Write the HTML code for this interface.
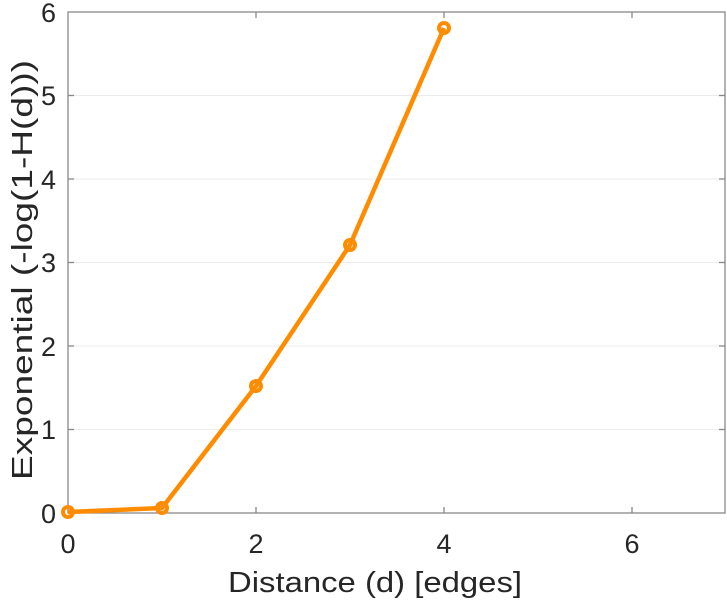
<!DOCTYPE html>
<html><head><style>body{margin:0;background:#fff}svg{display:block}text{font-family:"Liberation Sans",sans-serif;fill:#262626}</style></head>
<body>
<svg width="727" height="600" xmlns="http://www.w3.org/2000/svg">
<g stroke="#ebebeb" stroke-width="1">
<line x1="68" x2="725" y1="429.5" y2="429.5"/><line x1="68" x2="725" y1="346" y2="346"/>
<line x1="68" x2="725" y1="262.5" y2="262.5"/><line x1="68" x2="725" y1="179" y2="179"/>
<line x1="68" x2="725" y1="95.5" y2="95.5"/>
</g>
<rect x="68" y="12" width="657" height="501" fill="none" stroke="#888" stroke-width="1.3"/>
<g stroke="#888" stroke-width="1.3">
<line x1="256" x2="256" y1="513" y2="507"/><line x1="444" x2="444" y1="513" y2="507"/><line x1="632" x2="632" y1="513" y2="507"/>
<line x1="256" x2="256" y1="12" y2="18"/><line x1="444" x2="444" y1="12" y2="18"/><line x1="632" x2="632" y1="12" y2="18"/>
<line x1="68" x2="74" y1="429.5" y2="429.5"/><line x1="68" x2="74" y1="346" y2="346"/><line x1="68" x2="74" y1="262.5" y2="262.5"/><line x1="68" x2="74" y1="179" y2="179"/><line x1="68" x2="74" y1="95.5" y2="95.5"/>
<line x1="725" x2="719" y1="429.5" y2="429.5"/><line x1="725" x2="719" y1="346" y2="346"/><line x1="725" x2="719" y1="262.5" y2="262.5"/><line x1="725" x2="719" y1="179" y2="179"/><line x1="725" x2="719" y1="95.5" y2="95.5"/>
</g>
<g font-size="27" text-anchor="middle">
<text x="68" y="553">0</text><text x="256" y="553">2</text><text x="444" y="553">4</text><text x="632" y="553">6</text>
</g>
<g font-size="27" text-anchor="end">
<text x="56" y="523">0</text><text x="56" y="439">1</text><text x="56" y="356">2</text><text x="56" y="272">3</text><text x="56" y="189">4</text><text x="56" y="105">5</text><text x="56" y="22">6</text>
</g>
<text x="228" y="592" font-size="29" textLength="294" lengthAdjust="spacingAndGlyphs">Distance (d) [edges]</text>
<text transform="translate(32,480) rotate(-90)" font-size="29" textLength="420" lengthAdjust="spacingAndGlyphs">Exponential (-log(1-H(d)))</text>
<polyline points="68,512 162,508 256,386 350,245 444,28" fill="none" stroke="#ff8c00" stroke-width="4.5" stroke-linejoin="round"/>
<g fill="none" stroke="#ff8c00" stroke-width="4">
<circle cx="68" cy="512" r="5"/><circle cx="162" cy="508" r="5"/><circle cx="256" cy="386" r="5"/><circle cx="350" cy="245" r="5"/><circle cx="444" cy="28" r="5"/>
</g>
</svg>
</body></html>
